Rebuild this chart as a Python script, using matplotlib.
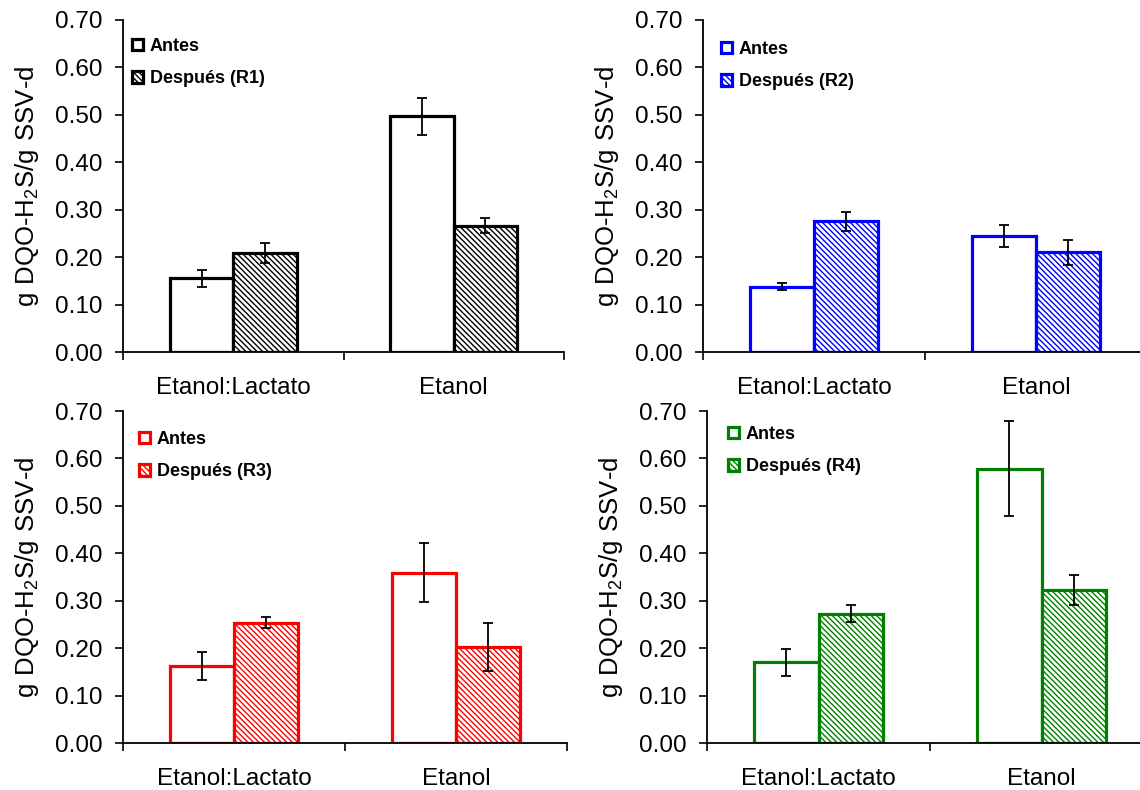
import matplotlib
matplotlib.use("Agg")
import matplotlib.pyplot as plt
from matplotlib.ticker import FixedLocator, FormatStrFormatter

plt.rcParams["font.family"] = ["Liberation Sans", "DejaVu Sans"]
plt.rcParams["mathtext.fontset"] = "custom"
plt.rcParams["mathtext.rm"] = "Liberation Sans"
plt.rcParams["hatch.linewidth"] = 1.0

categories = ["Etanol:Lactato", "Etanol"]
reactors = ["R1", "R2", "R3", "R4"]
colors = ["black", "#0000FF", "#FF0000", "#008000"]

antes = {
    "R1": [0.155, 0.497],
    "R2": [0.138, 0.245],
    "R3": [0.162, 0.359],
    "R4": [0.170, 0.578],
}
antes_err = {
    "R1": [0.018, 0.039],
    "R2": [0.008, 0.023],
    "R3": [0.030, 0.062],
    "R4": [0.029, 0.100],
}
despues = {
    "R1": [0.209, 0.266],
    "R2": [0.276, 0.210],
    "R3": [0.254, 0.202],
    "R4": [0.273, 0.323],
}
despues_err = {
    "R1": [0.021, 0.016],
    "R2": [0.020, 0.027],
    "R3": [0.011, 0.050],
    "R4": [0.018, 0.032],
}
yticks = [0.0, 0.1, 0.2, 0.3, 0.4, 0.5, 0.6, 0.7]

W, H = 1140, 790
fig = plt.figure(figsize=(W / 100, H / 100), dpi=100)

# axes boxes in pixels: left, right, top, bottom
boxes = [
    (123, 564, 20, 352),
    (703, 1147, 20, 352),
    (123, 567, 411, 743),
    (707, 1153, 411, 743),
]
legend_off = [(9, 38), (18, 41), (16, 431), (21, 426)]

bw = 0.287
centers = [0.5, 1.5]
hatch = "\\" * 6

for i, r in enumerate(reactors):
    l, rr, t, b = boxes[i]
    ax = fig.add_axes([l / W, (H - b) / H, (rr - l) / W, (b - t) / H])
    col = colors[i]
    xa = [c - bw / 2 for c in centers]
    xd = [c + bw / 2 for c in centers]
    ax.bar(xa, antes[r], width=bw, color="white", edgecolor=col,
           linewidth=2.3, label="Antes", zorder=2)
    ax.bar(xd, despues[r], width=bw, color="white", edgecolor=col,
           linewidth=2.3, hatch=hatch, label=f"Después ({r})", zorder=2)
    ax.errorbar(xa, antes[r], yerr=antes_err[r], fmt="none", ecolor="black",
                elinewidth=1.3, capsize=3.6, capthick=1.3, zorder=3)
    ax.errorbar(xd, despues[r], yerr=despues_err[r], fmt="none", ecolor="black",
                elinewidth=1.3, capsize=3.6, capthick=1.3, zorder=3)

    ax.set_xlim(0, 2)
    ax.set_ylim(0, 0.70)
    ax.set_yticks(yticks)
    ax.yaxis.set_major_formatter(FormatStrFormatter("%.2f"))
    ax.set_xticks(centers)
    ax.set_xticklabels(categories)
    ax.xaxis.set_minor_locator(FixedLocator([0, 1, 2]))
    ax.tick_params(axis="x", which="major", length=0, pad=18, labelsize=17.5)
    ax.tick_params(axis="x", which="minor", length=6, width=1.2, direction="out")
    ax.tick_params(axis="y", length=6, width=1.2, direction="out", pad=9, labelsize=17.5)
    for s in ["top", "right"]:
        ax.spines[s].set_visible(False)
    for s in ["left", "bottom"]:
        ax.spines[s].set_linewidth(1.3)

    ax.set_ylabel(r"$\mathregular{g\ DQO\text{-}H_2S/g\ SSV\text{-}d}$",
                  fontsize=18.5, labelpad=10)

    ox, oy = legend_off[i]
    ax.legend(loc="upper left",
              bbox_to_anchor=((ox) / (rr - l), 1 - (oy - t) / (b - t)),
              frameon=False, borderpad=0, borderaxespad=0,
              handlelength=0.62, handleheight=0.62, handletextpad=0.35,
              labelspacing=0.85, prop={"weight": "bold", "size": 13})

fig.savefig("out.png", dpi=100)
